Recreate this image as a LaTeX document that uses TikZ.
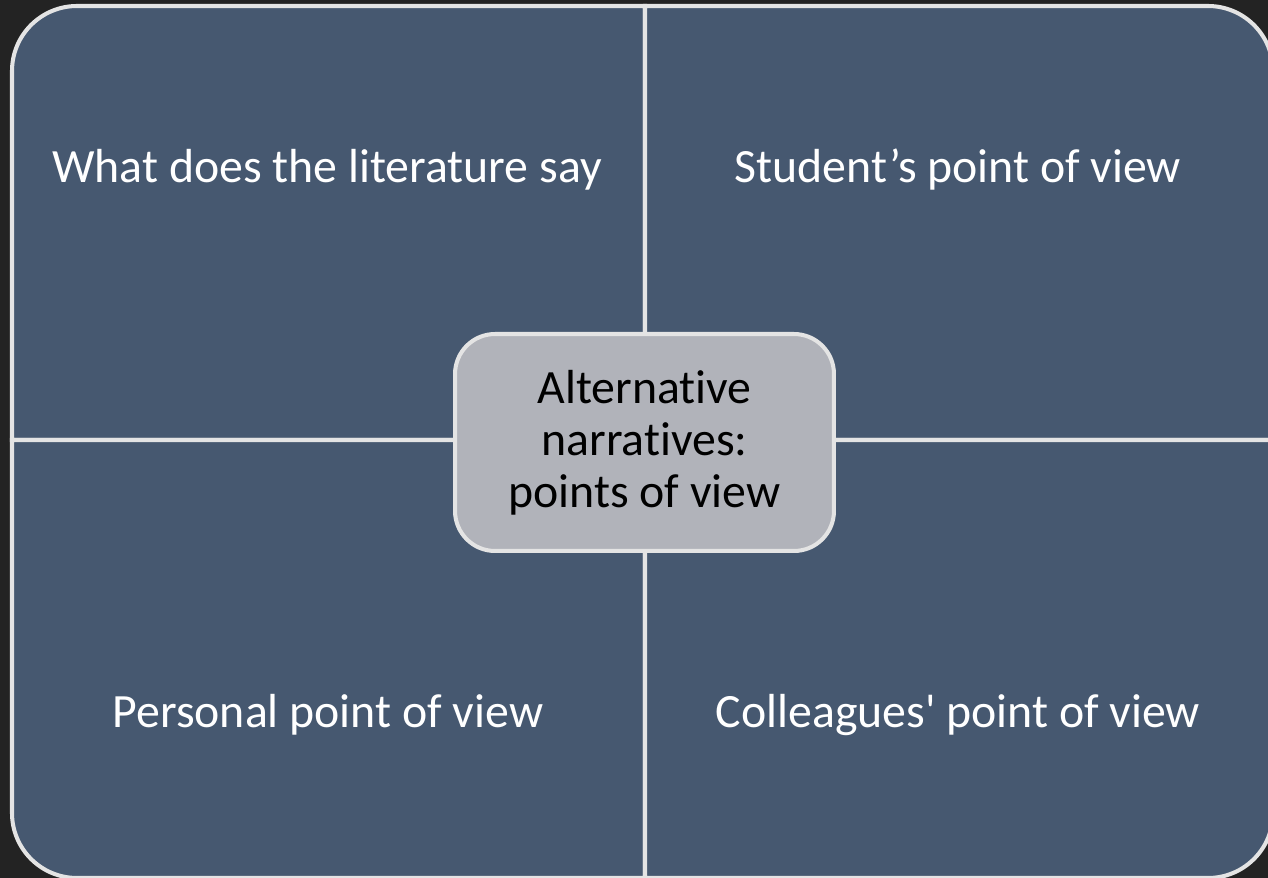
\documentclass[tikz,border=0pt]{standalone}
\usepackage{fontspec}
\setmainfont{Carlito}[Ligatures={TeX,NoCommon}]
\usetikzlibrary{positioning}

\definecolor{bgdark}{HTML}{232323}
\definecolor{quadblue}{HTML}{465870}
\definecolor{edgegray}{HTML}{E4E4E4}
\definecolor{centergray}{HTML}{B1B3BA}

\begin{document}
\begin{tikzpicture}[x=0.02cm, y=-0.02cm,
    quad/.style={fill=quadblue, draw=edgegray, line width=2.3pt},
    qtext/.style={text=white, anchor=base, font=\fontsize{27.2}{29.5}\selectfont},
    hub/.style={draw=edgegray, fill=centergray, line width=2.3pt, rounded corners=0.8cm,
        minimum width=7.58cm, minimum height=4.34cm, align=center,
        font=\fontsize{27.2}{29.5}\selectfont}]
    \fill[bgdark] (0,0) rectangle (1268,878);
    \useasboundingbox (0,0) rectangle (1268,878);

    % four quadrants, one rounded corner each
    \draw[quad] (12,440) [rounded corners=1.3cm] -- (12,6) [sharp corners] -- (645,6) -- (645,440) -- cycle;
    \draw[quad] (645,6) [rounded corners=1.3cm] -- (1273,6) [sharp corners] -- (1273,440) -- (645,440) -- cycle;
    \draw[quad] (645,878) [rounded corners=1.3cm] -- (12,878) [sharp corners] -- (12,440) -- (645,440) -- cycle;
    \draw[quad] (1273,440) [rounded corners=1.3cm] -- (1273,878) [sharp corners] -- (645,878) -- (645,440) -- cycle;

    \node[qtext] (literature) at (327,183) {What does the literature say};
    \node[qtext] (student) at (958,183) {Student’s point of view};
    \node[qtext] (personal) at (328,727) {Personal point of view};
    \node[qtext] (colleagues) at (958,727) {Colleagues\textquotesingle{} point of view};

    \node[hub] (narratives) at (644.5,442.5) {Alternative\\narratives:\\points of view};
\end{tikzpicture}
\end{document}
